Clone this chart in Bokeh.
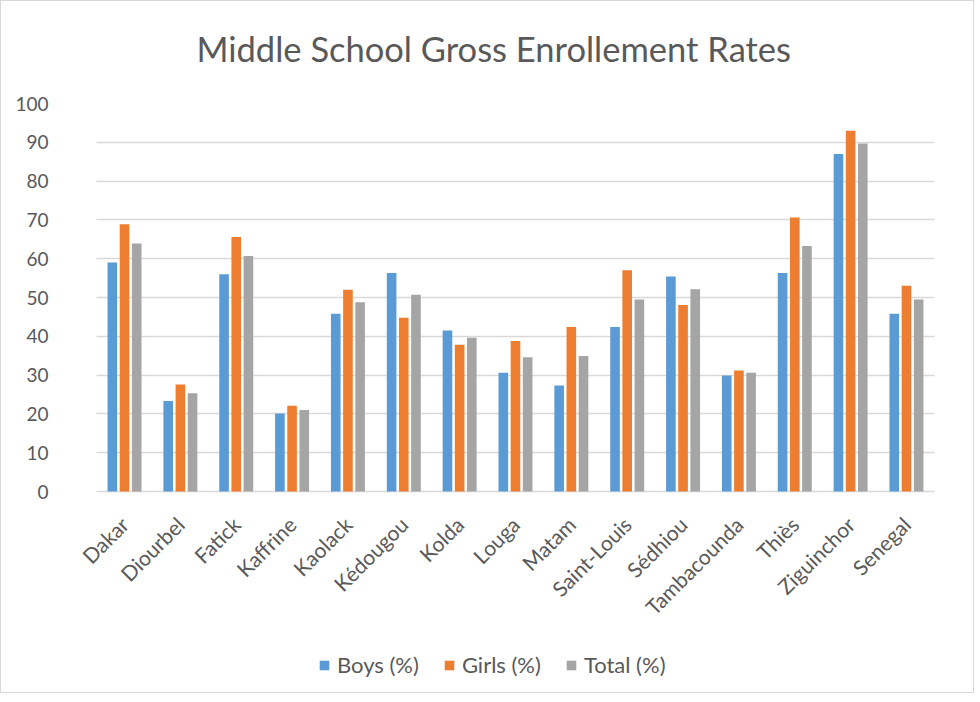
import math
from bokeh.plotting import figure
from bokeh.models import ColumnDataSource, FixedTicker, Legend, LegendItem, Title
from bokeh.transform import dodge
from bokeh.embed import file_html
from bokeh.resources import INLINE

regions = ["Dakar", "Diourbel", "Fatick", "Kaffrine", "Kaolack", "Kédougou", "Kolda",
           "Louga", "Matam", "Saint-Louis", "Sédhiou", "Tambacounda", "Thiès",
           "Ziguinchor", "Senegal"]
boys = [59.0, 23.3, 56.0, 20.1, 45.8, 56.3, 41.5, 30.6, 27.3, 42.4, 55.4, 29.9, 56.3, 87.0, 45.8]
girls = [68.9, 27.6, 65.6, 22.1, 52.0, 44.8, 37.8, 38.8, 42.4, 57.0, 48.1, 31.2, 70.6, 93.0, 53.0]
total = [63.9, 25.3, 60.7, 21.0, 48.8, 50.7, 39.6, 34.6, 34.9, 49.5, 52.1, 30.6, 63.3, 89.7, 49.5]
series = ["Boys (%)", "Girls (%)", "Total (%)"]
colors = ["#5B9BD5", "#ED7D31", "#A5A5A5"]
yticks = list(range(0, 101, 10))

src = ColumnDataSource(dict(region=regions, boys=boys, girls=girls, total=total))

FONT = "Lato"
TXT = "#595959"

# frame extends below the zero line (labels + legend) and slightly beyond the
# first/last category so the rotated first label is not clipped
p = figure(x_range=regions, y_range=(-51.8, 100), frame_width=916, frame_height=589,
           output_backend="svg", toolbar_location=None, title=None,
           min_border_left=56, min_border_right=0, min_border_top=102, min_border_bottom=0)
p.x_range.range_padding = 0.7
p.x_range.range_padding_units = "absolute"

spacer = Title(text=" ", text_font_size="30px", standoff=0)
main = Title(text="Middle School Gross Enrollement Rates", align="left", offset=139,
             text_font=FONT, text_font_style="normal", text_font_size="34.5px",
             text_color=TXT, standoff=0)
p.add_layout(spacer, "above")
p.add_layout(main, "above")

rs = []
for key, off, col in zip(["boys", "girls", "total"], [-0.218, 0.0, 0.218], colors):
    r = p.vbar(x=dodge("region", off, range=p.x_range), top=key, width=0.172,
               source=src, fill_color=col, line_color=None)
    rs.append(r)

p.outline_line_color = None
p.xgrid.grid_line_color = None
p.ygrid.grid_line_color = "#D9D9D9"
p.ygrid.grid_line_width = 1.5
ygrid = p.ygrid[0]
if "cross_bounds" in ygrid.properties():
    ygrid.cross_bounds = (0, len(regions))
p.yaxis.ticker = FixedTicker(ticks=yticks)
p.yaxis.axis_line_color = None
p.yaxis.major_tick_line_color = None
p.yaxis.minor_tick_line_color = None
p.yaxis.major_label_text_font = FONT
p.yaxis.major_label_text_font_size = "19px"
p.yaxis.major_label_text_color = TXT
p.yaxis.major_label_standoff = 3
p.xaxis.fixed_location = 0
p.xaxis.axis_line_color = None
p.xaxis.major_tick_line_color = None
p.xaxis.major_label_orientation = math.pi / 4
p.xaxis.major_label_text_font = FONT
p.xaxis.major_label_text_font_size = "21px"
p.xaxis.major_label_text_color = TXT
p.xaxis.major_label_standoff = 23

legend = Legend(items=[LegendItem(label=s, renderers=[r]) for s, r in zip(series, rs)],
                orientation="horizontal", location=(261, 14))
legend.label_text_font = FONT
legend.label_text_font_size = "22px"
legend.label_text_color = TXT
legend.glyph_width = 12
legend.glyph_height = 12
legend.spacing = 24
legend.label_standoff = 7
legend.margin = 0
legend.padding = 0
legend.border_line_color = None
legend.background_fill_alpha = 0
p.add_layout(legend, "center")
p.styles = {"border": "1px solid #D9D9D9"}

open("out.html", "w").write(file_html(p, INLINE))
